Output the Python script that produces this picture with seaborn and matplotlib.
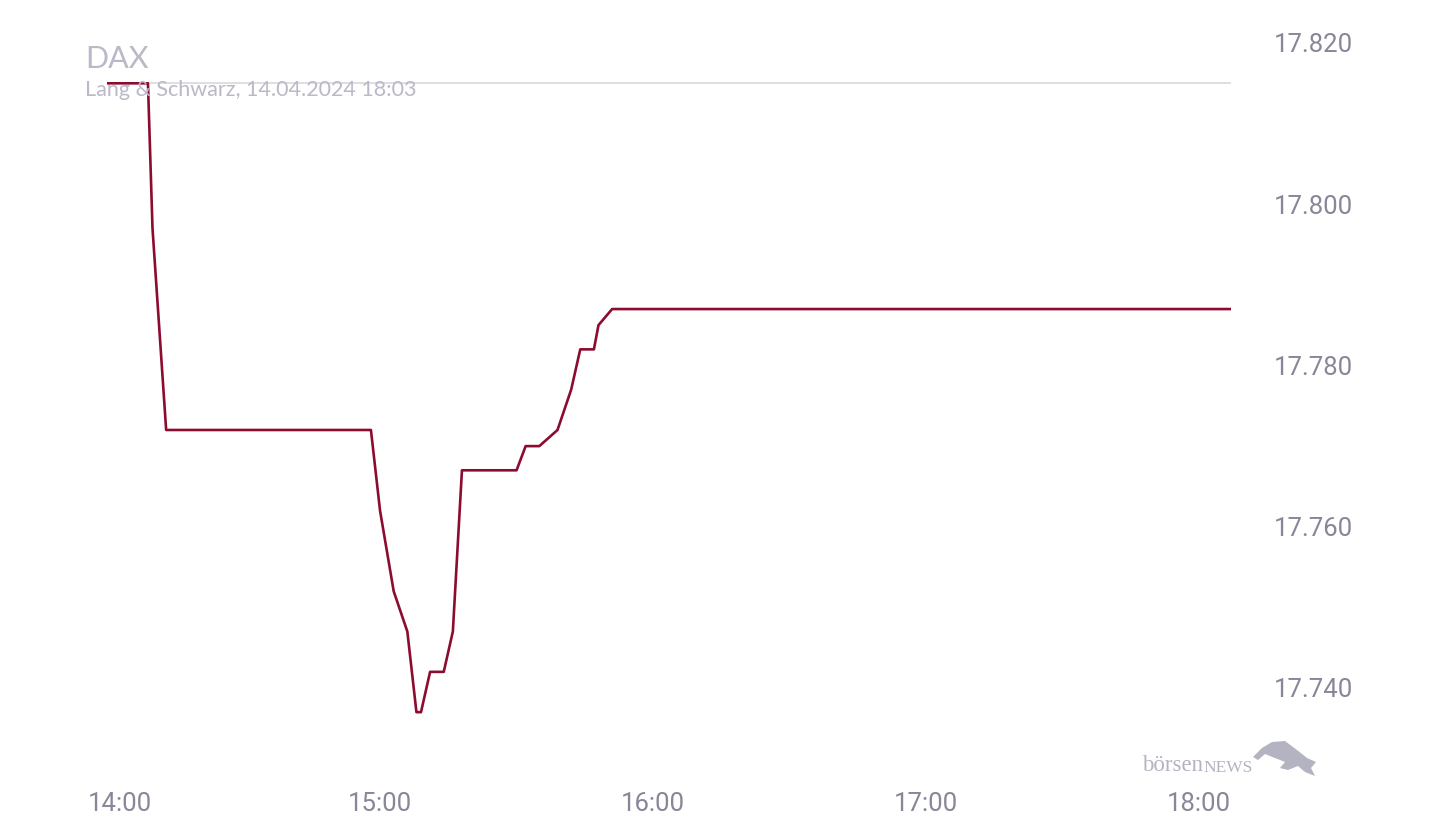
import matplotlib
matplotlib.use("Agg")
import matplotlib.pyplot as plt
import matplotlib.transforms as mtransforms
import seaborn as sns
import pandas as pd

# ---- data ----
times = ["14:00", "14:09", "14:10", "14:13", "14:58", "15:00", "15:03", "15:06",
         "15:08", "15:09", "15:11", "15:14", "15:16", "15:18", "15:30", "15:32",
         "15:35", "15:39", "15:42", "15:44", "15:47", "15:48", "15:51", "18:07"]
values = [17815, 17815, 17797, 17772, 17772, 17762, 17752, 17747,
          17737, 17737, 17742, 17742, 17747, 17767, 17767, 17770,
          17770, 17772, 17777, 17782, 17782, 17785, 17787, 17787]
x_tick_labels = ["14:00", "15:00", "16:00", "17:00", "18:00"]
y_ticks = [17740, 17760, 17780, 17800, 17820]
max_line = 17815
title = "DAX"
subtitle = "Lang & Schwarz, 14.04.2024 18:03"


def to_min(t):
    h, m = t.split(":")
    return (int(h) - 14) * 60 + int(m)


df = pd.DataFrame({"minute": [to_min(t) for t in times],
                   "value": [v / 1000 for v in values]})

sns.set_theme(style="white")
plt.rcParams["font.family"] = ["Roboto", "DejaVu Sans"]

W, H = 1440, 840
fig = plt.figure(figsize=(W / 100, H / 100), dpi=100)
ax = fig.add_axes([107 / W, 1 - 768.6 / H, (1231 - 107) / W, (768.6 - 43) / H])

line_color = "#8c0c30"
label_color = "#878799"

ax.axhline(max_line / 1000, color="#dcdcdf", lw=1.3, zorder=1)
sns.lineplot(data=df, x="minute", y="value", ax=ax, color=line_color,
             linewidth=1.9, zorder=3, estimator=None, sort=False)

ax.set_xlim(0, 247)
ax.set_ylim(17.730, 17.820)
ax.set_xlabel("")
ax.set_ylabel("")
for s in ax.spines.values():
    s.set_visible(False)

ax.set_xticks([to_min(t) for t in x_tick_labels])
ax.set_xticklabels(x_tick_labels)
ax.set_yticks([v / 1000 for v in y_ticks])
ax.set_yticklabels([f"{v/1000:.3f}" for v in y_ticks])
ax.yaxis.tick_right()
ax.tick_params(axis="y", length=0, pad=31, labelsize=18.5, labelcolor=label_color)
ax.tick_params(axis="x", length=0, pad=17, labelsize=18.5, labelcolor=label_color)
ax.grid(False)

# first x label is nudged right (kept inside the chart area in the reference)
first = ax.get_xticklabels()[0]
first.set_transform(first.get_transform() +
                    mtransforms.ScaledTranslation(13 / 100, 0, fig.dpi_scale_trans))

# title texts
fig.text(85 / W, 1 - 68 / H, title, fontsize=22, color="#b9b9c8",
         family=["Lato", "DejaVu Sans"], ha="left", va="baseline")
fig.text(85 / W, 1 - 96 / H, subtitle, fontsize=15.5, color="#b9b9c8",
         family=["Lato", "DejaVu Sans"], ha="left", va="baseline")

# logo (decoration)
t1 = fig.text(1142 / W, 1 - 771 / H, "börsen", fontsize=16.5, color="#b3b3c2",
              family=["Liberation Serif", "DejaVu Serif"], ha="left", va="baseline")
fig.canvas.draw()
ax.annotate("NEWS", xy=(1, 0), xycoords=t1, xytext=(0.5, 0), textcoords="offset points",
            fontsize=12.5, color="#b3b3c2", family=["Liberation Serif", "DejaVu Serif"],
            ha="left", va="bottom", annotation_clip=False)
bull = [(1253, 757), (1262, 748), (1272, 742), (1285, 741), (1297, 750),
        (1307, 758), (1316, 762), (1311, 768), (1315, 776), (1305, 772),
        (1298, 766), (1288, 770), (1280, 768), (1285, 762), (1275, 758),
        (1265, 754), (1258, 760)]
poly = plt.Polygon([(px / W, 1 - py / H) for px, py in bull], closed=True,
                   transform=fig.transFigure, color="#b3b3c2", lw=0)
fig.patches.append(poly)

fig.savefig("out.png", dpi=100, facecolor="white")
